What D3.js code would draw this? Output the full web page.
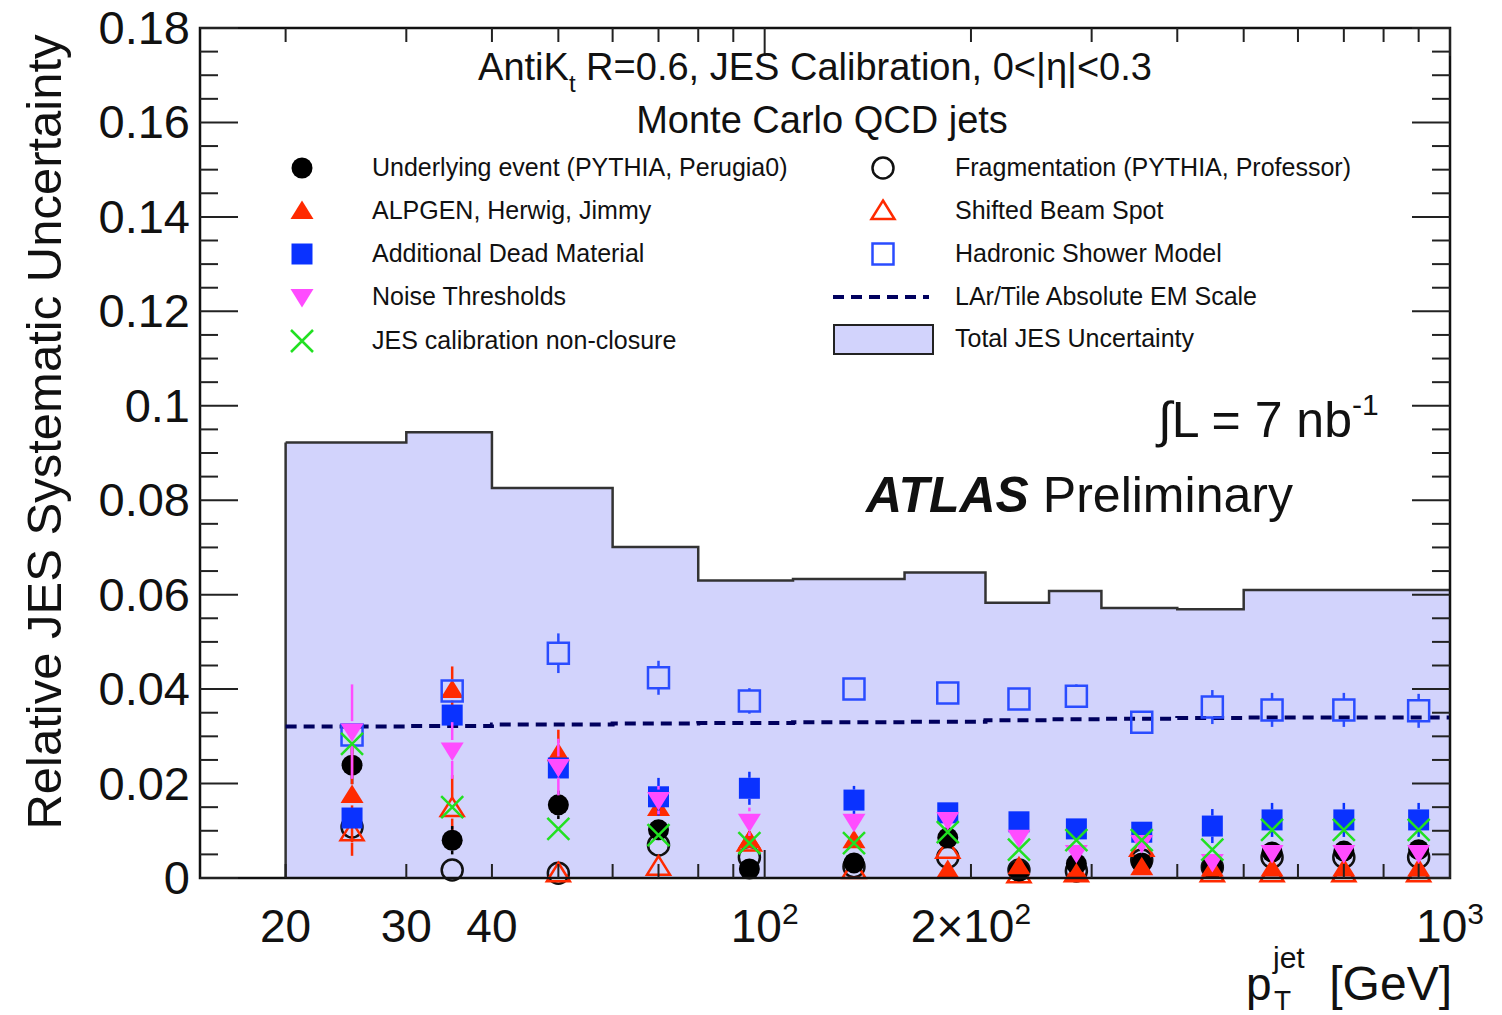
<!DOCTYPE html>
<html lang="en">
<head>
<meta charset="UTF-8"/>
<title>JES Systematic Uncertainty</title>
<script src="https://d3js.org/d3.v7.min.js"></script>
<style>
	body { margin:0; background:#fff; }
	text { font-family: "Liberation Sans", Arial, Helvetica, sans-serif; fill:#111; }
</style>
</head>
<body>
<script>
	// pT bin centres and edges (GeV)
	var ptCenters = [25,35,50,70,95,135,185,235,285,355,450,550,700,900];
	var binEdges  = [20,30,40,60,80,110,160,210,260,310,400,500,600,800,1000];

	// total JES uncertainty (histogram) and LAr/Tile EM scale (dashed)
	var totalJES = [0.0922,0.0944,0.0826,0.0701,0.0630,0.0633,0.0647,0.0583,0.0608,0.0572,0.0569,0.0610,0.0610,0.0610];
	var emScale  = [0.0321,0.0322,0.0325,0.0327,0.0328,0.0330,0.0331,0.0334,0.0336,0.0337,0.0339,0.0340,0.0340,0.0340];

	// individual components
	var underlyingEvent = [0.0239,0.0080,0.0155,0.0102,0.0019,0.0032,0.0085,0.0015,0.0030,0.0032,0.0023,0.0055,0.0057,0.0060];
	var ueErr           = [0.0040,0.0030,0.0030,0.0020,0.0010,0.0010,0.0010,0.0010,0.0010,0.0010,0.0010,0.0010,0.0010,0.0010];
	var fragmentation   = [0.0108,0.0017,0.0010,0.0070,0.0044,0.0024,0.0044,0.0017,0.0015,0.0038,0.0023,0.0044,0.0044,0.0044];
	var fragErr         = [0.0010,0.0010,0.0010,0.0010,0.0010,0.0010,0.0010,0.0010,0.0010,0.0010,0.0010,0.0010,0.0010,0.0010];
	var alpgen          = [0.0176,0.0398,0.0264,0.0148,0.0080,0.0080,0.0017,0.0025,0.0010,0.0023,0.0020,0.0020,0.0020,0.0020];
	var alpgenErr       = [0.0100,0.0050,0.0050,0.0020,0.0015,0.0015,0.0010,0.0010,0.0010,0.0010,0.0010,0.0010,0.0010,0.0010];
	var beamSpot        = [0.0097,0.0148,0.0010,0.0024,0.0075,0.0017,0.0060,0.0008,0.0010,0.0064,0.0010,0.0010,0.0010,0.0010];
	var beamErr         = [0.0050,0.0070,0.0010,0.0010,0.0010,0.0010,0.0010,0.0010,0.0010,0.0010,0.0010,0.0010,0.0010,0.0010];
	var deadMaterial    = [0.0127,0.0345,0.0233,0.0172,0.0190,0.0165,0.0138,0.0119,0.0104,0.0097,0.0110,0.0123,0.0123,0.0123];
	var deadErr         = [0.0020,0.0020,0.0020,0.0040,0.0035,0.0030,0.0020,0.0020,0.0020,0.0010,0.0036,0.0036,0.0036,0.0036];
	var hadronicShower  = [0.0303,0.0396,0.0476,0.0424,0.0375,0.0400,0.0392,0.0379,0.0385,0.0330,0.0362,0.0356,0.0356,0.0354];
	var hadronicErr     = [0.0010,0.0010,0.0042,0.0036,0.0027,0.0020,0.0015,0.0015,0.0025,0.0015,0.0036,0.0036,0.0036,0.0036];
	var noise           = [0.0310,0.0270,0.0235,0.0165,0.0119,0.0119,0.0123,0.0085,0.0053,0.0074,0.0034,0.0053,0.0053,0.0053];
	var noiseErr        = [0.0100,0.0060,0.0060,0.0030,0.0030,0.0020,0.0020,0.0015,0.0015,0.0015,0.0015,0.0015,0.0015,0.0015];
	var nonClosure      = [0.0284,0.0150,0.0104,0.0091,0.0074,0.0074,0.0097,0.0060,0.0080,0.0080,0.0060,0.0102,0.0102,0.0102];

	var yMajorTicks = [0,0.02,0.04,0.06,0.08,0.1,0.12,0.14,0.16,0.18];
	var yTickLabels = ["0","0.02","0.04","0.06","0.08","0.1","0.12","0.14","0.16","0.18"];
	var xTickValues = [20,30,40,100,200,1000];
	var xTickBase   = ["20","30","40","10","2\u00d710","10"];
	var xTickSup    = ["","","","2","2","3"];

	var w = 1502, h = 1015;
	var padL = 200, padR = 1450, padT = 28, padB = 878;
	var mHalf = 10.5;

	var xScale = d3.scaleLog().domain([15,1000]).range([padL,padR]);
	var yScale = d3.scaleLinear().domain([0,0.18]).range([padB,padT]);

	var svg = d3.select("body").append("svg").attr("width",w).attr("height",h);

	// total uncertainty histogram
	var histVals = totalJES.concat([totalJES[totalJES.length-1]]);
	var area = d3.area().curve(d3.curveStepAfter)
		.x(function(d,i){ return xScale(binEdges[i]); })
		.y0(yScale(0))
		.y1(function(d){ return yScale(d); });
	svg.append("path").datum(histVals).attr("d",area).attr("fill","#d2d3fc");
	var line = d3.line().curve(d3.curveStepAfter)
		.x(function(d,i){ return xScale(binEdges[i]); })
		.y(function(d){ return yScale(d); });
	svg.append("path").datum(histVals).attr("d",line)
		.attr("fill","none").attr("stroke","#333").attr("stroke-width",2.5);
	svg.append("line")
		.attr("x1",xScale(binEdges[0])).attr("x2",xScale(binEdges[0]))
		.attr("y1",yScale(totalJES[0])).attr("y2",yScale(0))
		.attr("stroke","#333").attr("stroke-width",2.5);

	// EM scale dashed line
	var emVals = emScale.concat([emScale[emScale.length-1]]);
	svg.append("path").datum(emVals).attr("d",line)
		.attr("fill","none").attr("stroke","#00005e").attr("stroke-width",4)
		.attr("stroke-dasharray","11,7");

	// marker shapes
	function markerPath(type){
		if(type=="circle") return d3.symbol().type(d3.symbolCircle).size(Math.PI*mHalf*mHalf)();
		if(type=="square") return "M-10.5,-10.5h21v21h-21z";
		if(type=="up") return "M0,-10.5L11.5,8L-11.5,8z";
		if(type=="down") return "M0,10.5L11.5,-8L-11.5,-8z";
		if(type=="cross") return "M-11,-11L11,11M-11,11L11,-11";
	}
	function drawMarker(g,x,y,s){
		var p = g.append("path").attr("d",markerPath(s.shape)).attr("transform","translate("+x+","+y+")");
		if(s.fill){
			p.attr("fill",s.color).attr("stroke","none");
		}else{
			p.attr("fill","none").attr("stroke",s.color).attr("stroke-width",2.5);
		}
	}

	var series = [
		{name:"frag", vals:fragmentation, err:fragErr, shape:"circle", fill:false, color:"#111"},
		{name:"beam", vals:beamSpot, err:beamErr, shape:"up", fill:false, color:"#ff2a00"},
		{name:"ue", vals:underlyingEvent, err:ueErr, shape:"circle", fill:true, color:"#000"},
		{name:"alpgen", vals:alpgen, err:alpgenErr, shape:"up", fill:true, color:"#ff2a00"},
		{name:"dead", vals:deadMaterial, err:deadErr, shape:"square", fill:true, color:"#0a32ff"},
		{name:"hadr", vals:hadronicShower, err:hadronicErr, shape:"square", fill:false, color:"#2a4cff"},
		{name:"noise", vals:noise, err:noiseErr, shape:"down", fill:true, color:"#ff4cff"},
		{name:"nonclos", vals:nonClosure, err:null, shape:"cross", fill:false, color:"#22e022"}
	];

	// error bars stop at the marker edge, as ROOT draws them
	var pts = svg.append("g");
	series.forEach(function(s){
		s.vals.forEach(function(d,i){
			var cx = xScale(ptCenters[i]), cy = yScale(d);
			if(s.err){
				var yHi = yScale(d+s.err[i]), yLo = yScale(Math.max(0,d-s.err[i]));
				if(cy-mHalf > yHi)
					pts.append("line").attr("x1",cx).attr("x2",cx).attr("y1",yHi).attr("y2",cy-mHalf)
						.attr("stroke",s.color).attr("stroke-width",2.5);
				if(yLo > cy+mHalf)
					pts.append("line").attr("x1",cx).attr("x2",cx).attr("y1",cy+mHalf).attr("y2",yLo)
						.attr("stroke",s.color).attr("stroke-width",2.5);
			}
			drawMarker(pts,cx,cy,s);
		});
	});

	// frame
	svg.append("rect").attr("x",padL).attr("y",padT).attr("width",padR-padL).attr("height",padB-padT)
		.attr("fill","none").attr("stroke","#111").attr("stroke-width",2.5);

	// y ticks, left and right
	var yMinor = d3.range(0,0.1801,0.005);
	var yMajLen = 38, yMinLen = 18;
	svg.selectAll(".ytl").data(yMinor).enter().append("line")
		.attr("x1",padL).attr("x2",function(d,i){ return padL+(i%4==0?yMajLen:yMinLen); })
		.attr("y1",function(d){ return yScale(d); }).attr("y2",function(d){ return yScale(d); })
		.attr("stroke","#222").attr("stroke-width",2);
	svg.selectAll(".ytr").data(yMinor).enter().append("line")
		.attr("x1",padR).attr("x2",function(d,i){ return padR-(i%4==0?yMajLen:yMinLen); })
		.attr("y1",function(d){ return yScale(d); }).attr("y2",function(d){ return yScale(d); })
		.attr("stroke","#222").attr("stroke-width",2);

	// x ticks, bottom and top
	var xMinor = [];
	[10,100].forEach(function(dec){ for(var k=1;k<=9;k++){ var v=dec*k; if(v>15 && v<=1000) xMinor.push(v); } });
	xMinor.push(1000);
	function isMajor(v){ return v==100 || v==1000; }
	svg.selectAll(".xtb").data(xMinor).enter().append("line")
		.attr("x1",function(d){ return xScale(d); }).attr("x2",function(d){ return xScale(d); })
		.attr("y1",padB).attr("y2",function(d){ return padB-(isMajor(d)?28:14); })
		.attr("stroke","#222").attr("stroke-width",2);
	svg.selectAll(".xtt").data(xMinor).enter().append("line")
		.attr("x1",function(d){ return xScale(d); }).attr("x2",function(d){ return xScale(d); })
		.attr("y1",padT).attr("y2",function(d){ return padT+(isMajor(d)?28:14); })
		.attr("stroke","#222").attr("stroke-width",2);

	// y labels
	svg.selectAll(".ylab").data(yMajorTicks).enter().append("text")
		.attr("x",190).attr("y",function(d){ return yScale(d)+16; })
		.attr("text-anchor","end").attr("font-size","47px")
		.text(function(d,i){ return yTickLabels[i]; });

	// x labels
	xTickValues.forEach(function(v,i){
		var t = svg.append("text").attr("x",xScale(v)).attr("y",942)
			.attr("text-anchor","middle").attr("font-size","46px");
		t.append("tspan").text(xTickBase[i]);
		if(xTickSup[i]) t.append("tspan").attr("dy",-18).attr("font-size","30px").text(xTickSup[i]);
	});

	// axis titles
	svg.append("text").attr("transform","translate(61,432) rotate(-90)")
		.attr("text-anchor","middle").attr("font-size","49px")
		.text("Relative JES Systematic Uncertainty");
	svg.append("text").attr("x",1246).attr("y",1000).attr("font-size","46px").text("p");
	svg.append("text").attr("x",1273).attr("y",968).attr("font-size","30px").text("jet");
	svg.append("text").attr("x",1274).attr("y",1010).attr("font-size","28px").text("T");
	svg.append("text").attr("x",1452).attr("y",1000).attr("text-anchor","end").attr("font-size","48px").text("[GeV]");

	// header
	var h1 = svg.append("text").attr("x",815).attr("y",80).attr("text-anchor","middle").attr("font-size","38px");
	h1.append("tspan").text("AntiK");
	h1.append("tspan").attr("font-size","24px").attr("dy",12).text("t");
	h1.append("tspan").attr("dy",-12).text(" R=0.6, JES Calibration, 0<|\u03b7|<0.3");
	svg.append("text").attr("x",822).attr("y",133).attr("text-anchor","middle").attr("font-size","38px")
		.text("Monte Carlo QCD jets");

	// legend
	var legLeft = [
		{label:"Underlying event (PYTHIA, Perugia0)", s:series[2]},
		{label:"ALPGEN, Herwig, Jimmy", s:series[3]},
		{label:"Additional Dead Material", s:series[4]},
		{label:"Noise Thresholds", s:series[6]},
		{label:"JES calibration non-closure", s:series[7]}
	];
	var legRight = [
		{label:"Fragmentation (PYTHIA, Professor)", s:series[0]},
		{label:"Shifted Beam Spot", s:series[1]},
		{label:"Hadronic Shower Model", s:series[5]},
		{label:"LAr/Tile Absolute EM Scale", s:"dash"},
		{label:"Total JES Uncertainty", s:"box"}
	];
	var rowsY = [168,211,254,297,341];
	legLeft.forEach(function(e,i){
		drawMarker(svg,302,rowsY[i],e.s);
		svg.append("text").attr("x",372).attr("y",rowsY[i]+8).attr("font-size","25px").attr("fill","#222").text(e.label);
	});
	legRight.forEach(function(e,i){
		if(e.s=="dash"){
			svg.append("line").attr("x1",833).attr("x2",929).attr("y1",rowsY[i]).attr("y2",rowsY[i])
				.attr("stroke","#00005e").attr("stroke-width",4).attr("stroke-dasharray","11,7");
		}else if(e.s=="box"){
			svg.append("rect").attr("x",834).attr("y",325).attr("width",99).attr("height",29)
				.attr("fill","#d2d3fc").attr("stroke","#222").attr("stroke-width",2);
		}else{
			drawMarker(svg,883,rowsY[i],e.s);
		}
		svg.append("text").attr("x",955).attr("y",rowsY[i]+(i==4?6:8)).attr("font-size","25px").attr("fill","#222").text(e.label);
	});

	// luminosity and ATLAS label
	var lum = svg.append("text").attr("x",1158).attr("y",437).attr("font-size","50px");
	lum.append("tspan").text("\u222bL = 7 nb");
	lum.append("tspan").attr("font-size","30px").attr("dy",-22).text("-1");
	var atl = svg.append("text").attr("x",866).attr("y",512).attr("font-size","50px");
	atl.append("tspan").attr("font-weight","bold").attr("font-style","italic").text("ATLAS");
	atl.append("tspan").text(" Preliminary");
</script>
</body>
</html>
